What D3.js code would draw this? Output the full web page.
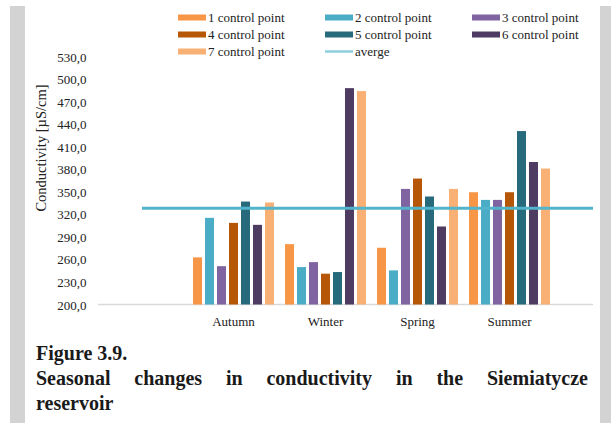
<!DOCTYPE html>
<html><head><meta charset="utf-8">
<script src="https://cdn.jsdelivr.net/npm/d3@7"></script>
<style>html,body{margin:0;padding:0;background:#fff;}svg{display:block;} svg text{font-family:"Liberation Serif","Times New Roman",serif;}</style>
</head><body>
<svg id="chart" width="611" height="423"></svg>
<script>
const seasons = ["Autumn", "Winter", "Spring", "Summer"];
const seriesNames = ["1 control point", "2 control point", "3 control point", "4 control point", "5 control point", "6 control point", "7 control point"];
const p1 = [262.7, 280.3, 275.5, 349.4];
const p2 = [315.3, 249.8, 245.4, 339.2];
const p3 = [251.0, 256.4, 353.8, 339.2];
const p4 = [308.6, 241.0, 367.6, 349.4];
const p5 = [337.0, 243.2, 343.7, 430.8];
const p6 = [306.0, 487.9, 303.8, 389.6];
const p7 = [335.7, 484.0, 353.8, 380.9];
const average = 328.0;
const averageLabel = "averge";
const yTicks = [200, 230, 260, 290, 320, 350, 380, 410, 440, 470, 500, 530];
const colors = ["#f79646", "#4bacc6", "#8064a2", "#b65708", "#276a7c", "#4d3b62", "#f9b074"];
const avgColor = "#52b4ca";

const series = [p1, p2, p3, p4, p5, p6, p7];
const svg = d3.select("#chart");
const serif = '"Liberation Serif", "Times New Roman", serif';

// gray page frame
svg.append("rect").attr("x", 10).attr("y", 6).attr("width", 15).attr("height", 417).attr("fill", "#d3d3d3");
svg.append("rect").attr("x", 600).attr("y", 6).attr("width", 11).attr("height", 417).attr("fill", "#d3d3d3");

const y = d3.scaleLinear().domain([200, 530]).range([304.5, 56.5]);
const x0 = d3.scaleBand().domain(seasons).range([187.5, 555.5]).paddingInner(0.12).paddingOuter(0.06);
const x1 = d3.scaleBand().domain(d3.range(7)).range([0, x0.bandwidth()]).paddingInner(0.25).paddingOuter(0);

// y axis labels
const yAxis = d3.axisLeft(y).tickValues(yTicks).tickSize(0).tickPadding(0)
  .tickFormat(d => d3.format(".1f")(d).replace(".", ","));
const ga = svg.append("g").attr("transform", "translate(86.5,0)").call(yAxis);
ga.attr("font-family", null);
ga.select(".domain").remove();
ga.selectAll("text").style("font-family", serif).style("font-size", "13px").attr("fill", "#222").attr("dy", "0.35em");

// baseline
svg.append("line").attr("x1", 98).attr("x2", 593).attr("y1", y(200)).attr("y2", y(200))
  .attr("stroke", "#d9d9d9").attr("stroke-width", 1.5);

// bars
const groups = svg.append("g").selectAll("g").data(seasons).join("g")
  .attr("transform", d => `translate(${x0(d)},0)`);
groups.selectAll("rect").data((s, i) => series.map((arr, k) => ({k, v: arr[i]}))).join("rect")
  .attr("x", d => x1(d.k)).attr("width", x1.bandwidth())
  .attr("y", d => y(d.v)).attr("height", d => y(200) - y(d.v))
  .attr("fill", d => colors[d.k]);

// average line
svg.append("line").attr("x1", 142).attr("x2", 593).attr("y1", y(average)).attr("y2", y(average))
  .attr("stroke", avgColor).attr("stroke-width", 3);

// x labels
const xAxis = d3.axisBottom(x0).tickSize(0).tickPadding(0);
const gx = svg.append("g").attr("transform", `translate(0,${y(200)})`).call(xAxis);
gx.attr("font-family", null);
gx.select(".domain").remove();
gx.selectAll("text").style("font-family", serif).style("font-size", "13px").attr("fill", "#222").attr("dy", "1.65em");

// y title
svg.append("text").attr("transform", "translate(46,148) rotate(-90)")
  .attr("text-anchor", "middle").style("font-family", serif).style("font-size", "14.5px").attr("fill", "#222")
  .text("Conductivity [µS/cm]");

// legend
const legendItems = seriesNames.map((n, i) => ({name: n, color: colors[i], type: "rect"}))
  .concat([{name: averageLabel, color: avgColor, type: "line"}]);
const colX = [178, 325, 472];
const rowY = [17.5, 34.5, 51.5];
const lg = svg.append("g").selectAll("g").data(legendItems).join("g")
  .attr("transform", (d, i) => `translate(${colX[i % 3]},${rowY[Math.floor(i / 3)]})`);
lg.filter(d => d.type === "rect").append("rect").attr("x", 0).attr("y", -3).attr("width", 28).attr("height", 6).attr("fill", d => d.color);
lg.filter(d => d.type === "line").append("line").attr("x1", 0).attr("x2", 28).attr("y1", 0).attr("y2", 0).attr("stroke", "#8ccfdf").attr("stroke-width", 2.5);
lg.append("text").attr("x", 30).attr("dy", "0.35em").style("font-family", serif).style("font-size", "13px").attr("fill", "#222").text(d => d.name);

// caption
const cap = svg.append("g");
function capText(x, yy, str) {
  return cap.append("text").attr("x", x).attr("y", yy).style("font-family", serif)
    .style("font-weight", "bold").style("font-size", "20px").attr("fill", "#1a1a1a").text(str);
}
capText(36, 360, "Figure 3.9.");
capText(36, 410, "reservoir");
// justified line: place words to span from 36 to 588
const words = "Seasonal changes in conductivity in the Siemiatycze".split(" ");
const wnodes = words.map(w => capText(0, 385, w));
const widths = wnodes.map(n => n.node().getComputedTextLength());
const gap = (588 - 36 - d3.sum(widths)) / (words.length - 1);
let cx = 36;
wnodes.forEach((n, i) => { n.attr("x", cx); cx += widths[i] + gap; });
</script>
</body></html>
